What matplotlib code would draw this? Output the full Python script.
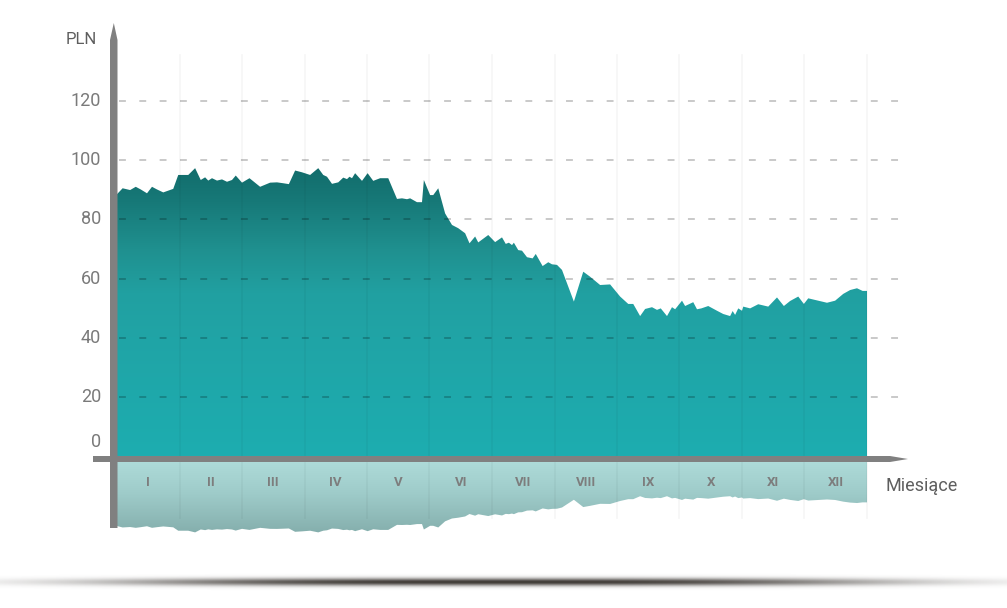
import numpy as np
import matplotlib.pyplot as plt
from matplotlib.colors import LinearSegmentedColormap, to_rgb
from matplotlib.patches import Polygon

# dane: pozycja na osi czasu (w miesiącach od początku roku) i cena w PLN
miesiac = [0.00, 0.09, 0.21, 0.30, 0.38, 0.48, 0.56, 0.64, 0.74, 0.90,
           0.98, 1.14, 1.25, 1.34, 1.41, 1.46, 1.52, 1.60, 1.68, 1.76,
           1.84, 1.90, 2.00, 2.12, 2.29, 2.45, 2.56, 2.66, 2.75, 2.85,
           2.96, 3.09, 3.22, 3.30, 3.36, 3.44, 3.54, 3.62, 3.68, 3.72,
           3.76, 3.81, 3.92, 4.01, 4.10, 4.21, 4.34, 4.48, 4.56, 4.64,
           4.69, 4.80, 4.88, 4.91, 5.01, 5.06, 5.14, 5.25, 5.36, 5.46,
           5.57, 5.64, 5.73, 5.78, 5.94, 6.05, 6.16, 6.22, 6.27, 6.32,
           6.35, 6.42, 6.48, 6.56, 6.65, 6.70, 6.81, 6.90, 6.96, 7.04,
           7.12, 7.31, 7.46, 7.57, 7.73, 7.89, 8.05, 8.18, 8.26, 8.37,
           8.45, 8.56, 8.64, 8.70, 8.80, 8.88, 8.93, 9.04, 9.09, 9.22,
           9.28, 9.35, 9.46, 9.60, 9.70, 9.81, 9.85, 9.89, 9.94, 10.00,
           10.02, 10.13, 10.26, 10.42, 10.56, 10.67, 10.77, 10.90, 10.99, 11.06,
           11.22, 11.36, 11.49, 11.62, 11.73, 11.84, 11.93, 12.00]
cena = [88.5, 90.5, 89.9, 91.0, 90.1, 88.8, 91.0, 90.1, 89.1, 90.3,
        95.0, 95.0, 97.3, 93.3, 94.2, 93.1, 93.9, 93.1, 93.5, 92.7,
        93.3, 94.8, 92.4, 93.9, 91.0, 92.4, 92.5, 92.2, 91.9, 96.5,
        95.9, 95.0, 97.3, 95.0, 94.4, 92.0, 92.5, 94.1, 93.6, 94.4,
        93.9, 95.6, 93.0, 95.6, 93.0, 93.9, 93.9, 86.9, 87.1, 86.8,
        87.1, 85.8, 85.8, 93.3, 88.2, 88.2, 90.5, 82.0, 78.1, 77.0,
        75.3, 71.9, 74.2, 72.2, 74.7, 72.3, 73.9, 71.7, 72.1, 71.3,
        72.1, 69.6, 69.4, 67.2, 66.8, 68.3, 64.2, 65.5, 64.8, 64.6,
        62.9, 52.2, 62.3, 60.6, 57.8, 58.0, 53.9, 51.4, 51.4, 47.3,
        49.7, 50.3, 49.4, 49.9, 47.3, 50.3, 49.6, 52.5, 50.7, 52.0,
        49.6, 49.9, 50.7, 49.1, 48.0, 47.3, 49.0, 47.7, 49.9, 49.1,
        50.5, 49.9, 51.3, 50.5, 53.6, 50.7, 52.4, 53.9, 51.4, 53.3,
        52.5, 51.8, 52.5, 54.8, 56.1, 56.7, 55.8, 55.8]
miesiace = ["I", "II", "III", "IV", "V", "VI", "VII", "VIII", "IX", "X", "XI", "XII"]
ticki = [0, 20, 40, 60, 80, 100, 120]

m = np.array(miesiac)
v = np.array(cena)

# skala: piksele obrazka -> jednostki danych
W, H = 1007, 608
X0, Y0 = 117, 456          # piksel początku osi (miesiąc 0, 0 PLN)
PX = 62.5                  # pikseli na miesiąc
PY = 355 / 120             # pikseli na 1 PLN


def px(x):
    return (x - X0) / PX


def py(y):
    return (Y0 - y) / PY


GRAY = "#808080"
TXT = "#7a7a7a"

fig = plt.figure(figsize=(W / 100, H / 100), dpi=100)
ax = fig.add_axes([0, 0, 1, 1])
ax.axis("off")

# główny obszar z gradientem
teal = LinearSegmentedColormap.from_list("teal", [
    (0.00, "#1dadb0"), (0.40, "#20a4a6"), (0.55, "#21a0a1"),
    (0.70, "#1f908f"), (0.86, "#177978"), (1.00, "#116a69")])
area = ax.fill_between(m, 0, v, facecolor="none", edgecolor="none")
grad = np.linspace(0, 1, 256).reshape(-1, 1)
im = ax.imshow(grad, cmap=teal, origin="lower", aspect="auto",
               extent=(0, 12, 0, 100), interpolation="bilinear", zorder=2)
im.set_clip_path(area.get_paths()[0], area.get_transform())

# odbicie pod osią
top = py(462)
k = 0.2445
refl = LinearSegmentedColormap.from_list("refl", [
    (0.0, "#84aeac"), (0.55, "#9ecbc9"), (1.0, "#aedbd9")])
r_area = ax.fill_between(m, top, top - k * v, facecolor="none", edgecolor="none")
im2 = ax.imshow(grad, cmap=refl, origin="lower", aspect="auto",
                extent=(0, 12, top - k * 100, top), interpolation="bilinear", zorder=2)
im2.set_clip_path(r_area.get_paths()[0], r_area.get_transform())

# pionowe linie miesięcy
for i in range(1, 13):
    ax.plot([i, i], [py(55), py(518)], color="black", alpha=0.04, lw=1.2, zorder=3)

# przerywana siatka
for t in ticki[1:]:
    ax.plot([px(119), px(902)], [t, t], color="black", alpha=0.27, lw=1.1,
            dashes=(4.5, 8.8), zorder=3)

# osie ze strzałkami
ax.add_patch(Polygon([(px(110), py(528)), (px(117.5), py(528)), (px(117.5), py(40)),
                      (px(113.8), py(23)), (px(110), py(40))],
                     closed=True, facecolor=GRAY, edgecolor="none", zorder=4))
ax.add_patch(Polygon([(px(93), py(456)), (px(890), py(456)), (px(908), py(459)),
                      (px(890), py(462)), (px(93), py(462))],
                     closed=True, facecolor=GRAY, edgecolor="none", zorder=4))

# etykiety osi Y
for t in ticki:
    yy = t if t > 0 else t + 14 / PY
    ax.text(px(101), yy, str(t), ha="right", va="center", fontsize=13,
            color=TXT, family="Roboto")
ax.text(px(97), py(40), "PLN", ha="right", va="center", fontsize=12,
        color="#5e5e5e", family="Roboto")
ax.text(px(886), py(486), "Miesiące", ha="left", va="center", fontsize=13,
        color="#5e5e5e", family="Roboto")

# nazwy miesięcy w odbiciu
for i, name in enumerate(miesiace):
    ax.text(i + 0.5, py(482), name, ha="center", va="center", fontsize=9.5,
            color="#7d7d7d", family="Roboto", fontweight="bold", zorder=5)

# cień pod wykresem
dx = np.arange(W) - 500.0
dy = np.linspace(-14, 14, 57)
alpha = np.exp(-(dy[:, None] / 3.8) ** 2) * np.exp(-(np.abs(dx[None, :]) / 380) ** 3)
shadow = np.zeros((len(dy), W, 4))
shadow[..., :3] = to_rgb("#3a3531")
shadow[..., 3] = np.clip(alpha * 0.98, 0, 1)
ax.imshow(shadow, aspect="auto", interpolation="bilinear",
          extent=(px(0), px(W), py(582 + 14), py(582 - 14)), zorder=1)

ax.set_xlim(px(0), px(W))
ax.set_ylim(py(H), py(0))

fig.savefig("out.png", dpi=100, facecolor="white")
